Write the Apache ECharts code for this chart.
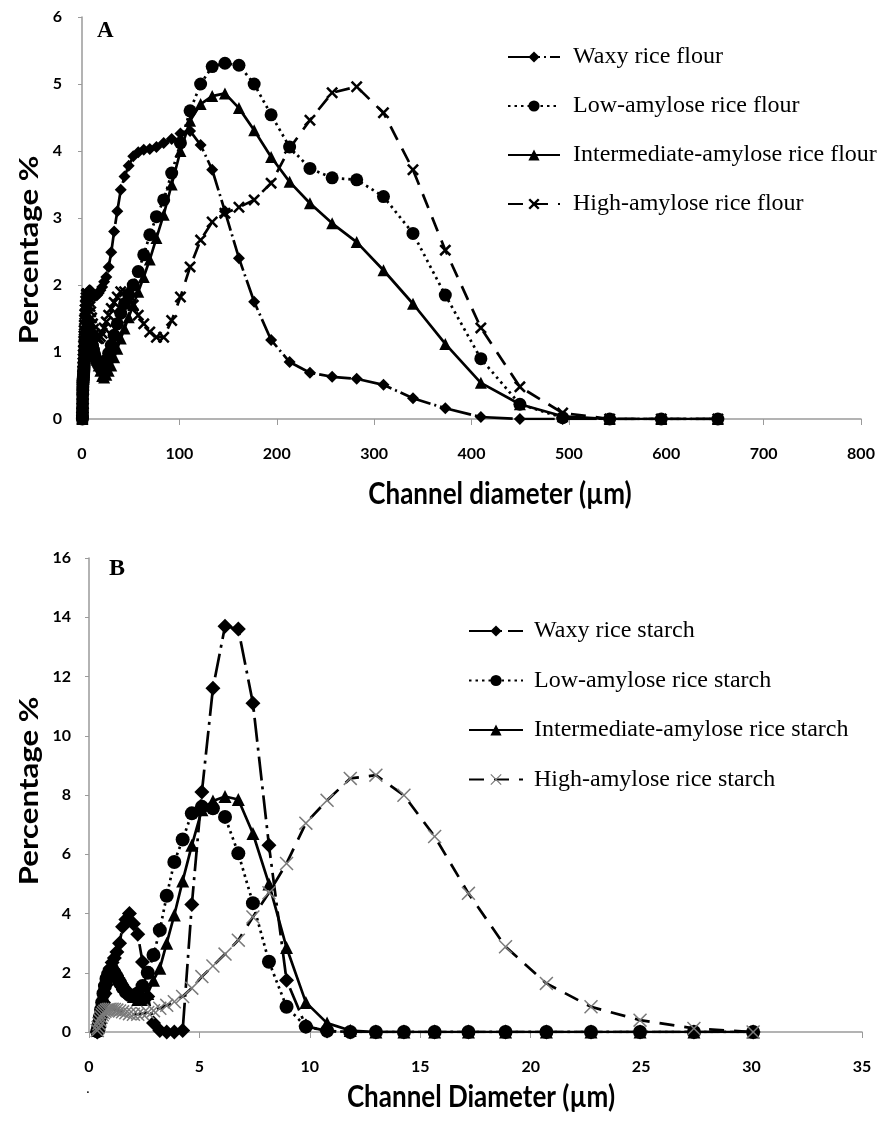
<!DOCTYPE html>
<html>
<head>
<meta charset="utf-8">
<script src="https://cdn.jsdelivr.net/npm/echarts@6/dist/echarts.min.js"></script>
<style>html,body{margin:0;padding:0;background:#fff}#c{width:880px;height:1121px}</style>
</head>
<body>
<div id="c"></div>
<script>
// Channel diameters (µm), log-spaced channels
const sizes = [0.375,0.412,0.452,0.496,0.545,0.598,0.656,0.721,0.791,0.868,
  0.953,1.047,1.149,1.261,1.385,1.520,1.669,1.832,2.011,2.208,
  2.423,2.660,2.920,3.206,3.519,3.863,4.241,4.656,5.111,5.611,
  6.159,6.761,7.422,8.148,8.944,9.819,10.78,11.83,12.99,14.26,
  15.65,17.18,18.86,20.71,22.73,24.95,27.39,30.07,33.01,36.24,
  39.78,43.67,47.94,52.62,57.77,63.41,69.61,76.42,83.89,92.09,
  101.1,111.0,121.8,133.7,146.8,161.2,176.8,194.2,213.2,234.1,
  256.9,282.1,309.6,339.9,373.1,409.6,449.7,493.6,541.9,594.9,653.0];

// Panel A: rice flours (percentage %)
const waxyFlour = [0.04,0.1,0.18,0.27,0.36,0.44,0.52,0.58,0.63,0.67,
  0.7,0.73,0.76,0.79,0.82,0.86,0.9,0.95,1.0,1.06,
  1.13,1.2,1.28,1.36,1.45,1.54,1.62,1.7,1.77,1.83,
  1.87,1.9,1.92,1.92,1.91,1.89,1.87,1.85,1.84,1.84,
  1.85,1.88,1.92,1.97,2.05,2.12,2.27,2.49,2.8,3.1,
  3.42,3.62,3.78,3.92,3.98,4.02,4.03,4.06,4.12,4.18,
  4.26,4.3,4.09,3.72,3.1,2.4,1.75,1.18,0.85,0.69,
  0.63,0.6,0.51,0.31,0.16,0.03,0,0,0,0,0];
const lowFlour = [0,0.02,0.05,0.1,0.16,0.23,0.3,0.37,0.43,0.48,
  0.52,0.55,0.58,0.6,0.62,0.64,0.67,0.7,0.74,0.78,
  0.83,0.88,0.94,1.0,1.06,1.12,1.18,1.23,1.27,1.3,
  1.32,1.32,1.3,1.27,1.22,1.16,1.1,1.03,0.96,0.9,
  0.84,0.8,0.76,0.74,0.8,0.88,0.98,1.1,1.25,1.42,
  1.58,1.72,1.85,2.0,2.2,2.45,2.75,3.02,3.27,3.67,
  4.12,4.6,5.0,5.26,5.31,5.28,5.0,4.54,4.06,3.74,
  3.6,3.57,3.32,2.77,1.85,0.9,0.22,0.02,0,0,0];
const interFlour = [0,0.01,0.03,0.07,0.12,0.18,0.25,0.32,0.39,0.45,
  0.5,0.54,0.58,0.61,0.64,0.67,0.7,0.74,0.78,0.83,
  0.89,0.95,1.02,1.09,1.16,1.23,1.3,1.36,1.41,1.45,
  1.47,1.48,1.47,1.44,1.39,1.32,1.24,1.15,1.06,0.97,
  0.88,0.8,0.72,0.64,0.62,0.66,0.72,0.8,0.92,1.05,
  1.2,1.35,1.52,1.7,1.9,2.12,2.38,2.7,3.05,3.5,
  4.0,4.45,4.7,4.82,4.86,4.64,4.31,3.91,3.54,3.22,
  2.92,2.64,2.22,1.72,1.12,0.54,0.22,0.04,0,0,0];
const highFlour = [0,0.03,0.08,0.15,0.23,0.32,0.41,0.5,0.58,0.65,
  0.72,0.78,0.84,0.9,0.96,1.02,1.09,1.16,1.24,1.32,
  1.4,1.48,1.56,1.63,1.7,1.76,1.81,1.85,1.87,1.87,
  1.85,1.81,1.75,1.68,1.6,1.51,1.42,1.34,1.27,1.22,
  1.2,1.2,1.23,1.28,1.36,1.45,1.55,1.65,1.74,1.82,
  1.9,1.9,1.85,1.7,1.55,1.42,1.3,1.22,1.22,1.47,
  1.82,2.27,2.67,2.94,3.07,3.16,3.27,3.52,4.04,4.46,
  4.87,4.96,4.57,3.72,2.52,1.36,0.48,0.09,0,0,0];

// Panel B: rice starches (first 48 channels, up to 30.07 µm)
const waxyStarch = [0,0.05,0.15,0.3,0.5,0.75,1.0,1.3,1.6,1.9,
  2.15,2.35,2.5,2.7,3.0,3.55,3.8,4.0,3.65,3.3,
  2.36,1.2,0.3,0.05,0,0,0.05,4.3,8.1,11.6,
  13.7,13.6,11.1,6.3,1.75,0.2,0.03,0,0,0,
  0,0,0,0,0,0,0,0];
const lowStarch = [0.02,0.12,0.3,0.5,0.75,1.0,1.3,1.55,1.8,1.95,
  2.05,2.05,1.98,1.85,1.68,1.5,1.35,1.25,1.22,1.3,
  1.55,2.0,2.6,3.44,4.6,5.74,6.5,7.38,7.6,7.55,
  7.26,6.03,4.35,2.37,0.85,0.18,0.04,0,0,0,
  0,0,0,0,0,0,0,0];
const interStarch = [0.05,0.2,0.4,0.65,0.9,1.2,1.5,1.75,1.95,2.1,
  2.2,2.25,2.2,2.1,1.95,1.75,1.55,1.35,1.2,1.1,
  1.1,1.3,1.75,2.15,3.0,3.95,5.1,6.3,7.5,7.8,
  7.95,7.85,6.7,5.0,2.85,1.0,0.3,0.05,0,0,
  0,0,0,0,0,0,0,0];
const highStarch = [0.05,0.15,0.28,0.4,0.5,0.58,0.65,0.7,0.74,0.76,
  0.77,0.77,0.76,0.74,0.71,0.68,0.65,0.62,0.6,0.6,
  0.62,0.66,0.72,0.8,0.9,1.02,1.2,1.48,1.87,2.23,
  2.63,3.1,3.88,4.7,5.69,7.05,7.82,8.56,8.67,7.99,
  6.6,4.68,2.88,1.64,0.85,0.4,0.12,0];

const namesA = ['Waxy rice flour','Low-amylose rice flour','Intermediate-amylose rice flour','High-amylose rice flour'];
const namesB = ['Waxy rice starch','Low-amylose rice starch','Intermediate-amylose rice starch','High-amylose rice starch'];

const pairs = (ys) => ys.map((y, i) => [sizes[i], y]);

const crossThick = 'path://M0,3 L3,0 L10,7 L17,0 L20,3 L13,10 L20,17 L17,20 L10,13 L3,20 L0,17 L7,10 Z';
const crossThin = 'path://M0,1.5 L1.5,0 L10,8.5 L18.5,0 L20,1.5 L11.5,10 L20,18.5 L18.5,20 L10,11.5 L1.5,20 L0,18.5 L8.5,10 Z';

const tickFont = {fontFamily: 'Lato', fontWeight: 'bold', fontSize: 16, color: '#000'};
const axisLine = {show: true, lineStyle: {color: '#9a9a9a', width: 1.5}};

function mk(name, data, idx, kind, big) {
  const s = {
    name, type: 'line', data, xAxisIndex: idx, yAxisIndex: idx,
    symbol: 'circle', symbolSize: 12, showSymbol: true, animation: false,
    itemStyle: {color: '#000'},
    lineStyle: {color: '#000', width: 2.7},
    emphasis: {disabled: true}
  };
  if (kind === 'waxy') { s.symbol = 'diamond'; s.symbolSize = big ? 15 : 12; s.lineStyle.type = big ? [24, 6, 3, 6] : [32, 4, 2, 4]; }
  if (kind === 'low') { s.symbol = 'circle'; s.symbolSize = big ? 14 : 13; s.lineStyle.type = [2.5, 4]; }
  if (kind === 'inter') { s.symbol = 'triangle'; s.symbolSize = big ? 13 : 12; s.lineStyle.type = 'solid'; }
  if (kind === 'high') {
    s.symbol = big ? crossThin : crossThick; s.symbolSize = big ? 14 : 12;
    s.lineStyle.type = [15, 10];
    if (big) s.itemStyle = {color: '#7a7a7a'};
  }
  return s;
}

const chart = echarts.init(document.getElementById('c'), null, {renderer: 'canvas'});
chart.setOption({
  animation: false,
  backgroundColor: '#fff',
  grid: [
    {left: 82, top: 17, width: 779, height: 402},
    {left: 89, top: 558, width: 773, height: 474}
  ],
  xAxis: [
    {gridIndex: 0, type: 'value', min: 0, max: 800, interval: 100, splitLine: {show: false},
     axisLine, axisTick: {show: true, length: 6, lineStyle: {color: '#9a9a9a'}},
     axisLabel: Object.assign({margin: 27}, tickFont)},
    {gridIndex: 1, type: 'value', min: 0, max: 35, interval: 5, splitLine: {show: false},
     axisLine, axisTick: {show: true, length: 6, lineStyle: {color: '#9a9a9a'}},
     axisLabel: Object.assign({margin: 27}, tickFont)}
  ],
  yAxis: [
    {gridIndex: 0, type: 'value', min: 0, max: 6, interval: 1, splitLine: {show: false},
     axisLine, axisTick: {show: true, length: 4, lineStyle: {color: '#9a9a9a'}},
     axisLabel: Object.assign({margin: 20}, tickFont)},
    {gridIndex: 1, type: 'value', min: 0, max: 16, interval: 2, splitLine: {show: false},
     axisLine, axisTick: {show: true, length: 4, lineStyle: {color: '#9a9a9a'}},
     axisLabel: Object.assign({margin: 18}, tickFont)}
  ],
  legend: [
    {data: namesA, orient: 'vertical', left: 502, top: 40, itemWidth: 52, itemHeight: 14, itemGap: 25,
     textStyle: {fontFamily: 'Liberation Serif', fontSize: 24, color: '#000', lineHeight: 24, padding: [0, 0, 0, 8]},
     selectedMode: false},
    {data: namesB, orient: 'vertical', left: 463, top: 614, itemWidth: 54, itemHeight: 14, itemGap: 25.5,
     textStyle: {fontFamily: 'Liberation Serif', fontSize: 24, color: '#000', lineHeight: 24, padding: [0, 0, 0, 6]},
     selectedMode: false}
  ],
  series: [
    mk(namesA[0], pairs(waxyFlour), 0, 'waxy', false),
    mk(namesA[1], pairs(lowFlour), 0, 'low', false),
    mk(namesA[2], pairs(interFlour), 0, 'inter', false),
    mk(namesA[3], pairs(highFlour), 0, 'high', false),
    mk(namesB[0], pairs(waxyStarch), 1, 'waxy', true),
    mk(namesB[1], pairs(lowStarch), 1, 'low', true),
    mk(namesB[2], pairs(interStarch), 1, 'inter', true),
    mk(namesB[3], pairs(highStarch), 1, 'high', true)
  ],
  graphic: [
    {type: 'text', x: 30, y: 250, rotation: Math.PI / 2, scaleX: 1.2,
     style: {text: 'Percentage %', font: 'bold 26px Lato', fill: '#000', align: 'center', verticalAlign: 'middle'}},
    {type: 'text', x: 500, y: 494, scaleY: 1.15,
     style: {text: 'Channel diameter (µm)', font: 'bold 26px Lato', fill: '#000', align: 'center', verticalAlign: 'middle'}},
    {type: 'text', x: 30, y: 791, rotation: Math.PI / 2, scaleX: 1.2,
     style: {text: 'Percentage %', font: 'bold 26px Lato', fill: '#000', align: 'center', verticalAlign: 'middle'}},
    {type: 'text', x: 481, y: 1097, scaleY: 1.15,
     style: {text: 'Channel Diameter (µm)', font: 'bold 26px Lato', fill: '#000', align: 'center', verticalAlign: 'middle'}},
    {type: 'text', x: 97, y: 31,
     style: {text: 'A', font: 'bold 23px "Liberation Serif"', fill: '#000', align: 'left', verticalAlign: 'middle'}},
    {type: 'text', x: 109, y: 569,
     style: {text: 'B', font: 'bold 24px "Liberation Serif"', fill: '#000', align: 'left', verticalAlign: 'middle'}},
    {type: 'text', x: 88, y: 1088,
     style: {text: '.', font: '14px Lato', fill: '#000', align: 'center', verticalAlign: 'middle'}}
  ]
});
</script>
</body>
</html>
